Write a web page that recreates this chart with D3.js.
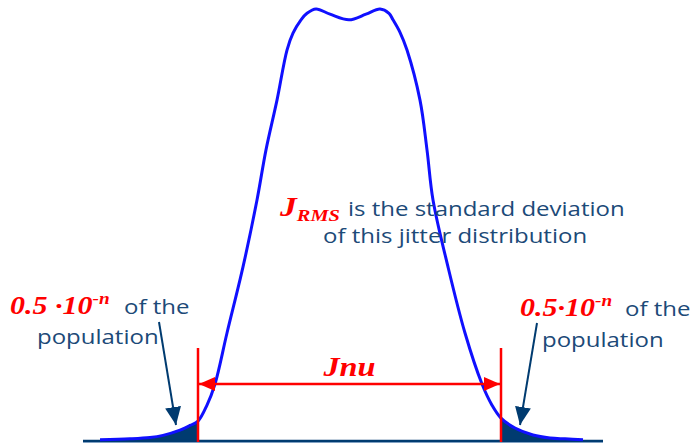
<!DOCTYPE html>
<html>
<head>
<meta charset="utf-8">
<script src="https://cdn.jsdelivr.net/npm/d3@7"></script>
<style>
  body { margin: 0; background: #fff; }
  svg { display: block; }
</style>
</head>
<body>
<svg id="chart"></svg>
<script>
// jitter offset (ps from centre) and normalised density
const jitterX = [-249, -219, -199, -186, -169, -159, -151, -142, -134, -122, -106, -92, -83, -72, -62, -56, -48, -42, -33, -19, 0,
  17, 31, 40, 44, 51, 58, 71, 78, 84, 99, 116, 133, 143, 152, 166, 184, 201, 216, 234];
const density = [0.003, 0.005, 0.008, 0.013, 0.025, 0.036, 0.046, 0.083, 0.132, 0.25, 0.403, 0.558, 0.674, 0.789, 0.905, 0.944, 0.975, 0.99, 1.0, 0.988, 0.975,
  0.988, 1.0, 0.99, 0.975, 0.946, 0.905, 0.789, 0.674, 0.558, 0.403, 0.25, 0.132, 0.083, 0.053, 0.03, 0.014, 0.007, 0.005, 0.003];
// Jnu limits (same units as jitterX)
const jnuBounds = [-151, 152];
const axisExtent = [-266, 254];

const width = 692;
const height = 445;
const navy = '#003b70';
const textNavy = '#1c4a78';
const red = '#ff0000';
const sans = 'Open Sans, Noto Sans, sans-serif';
const serif = 'Liberation Serif, serif';
// the original artwork is stretched sideways, so is the text
const stretch = 1.2;

const data = jitterX.map((x, i) => ({ x: x, y: density[i] }));

const xScale = d3.scaleLinear().domain([-349, 343]).range([0, width]);
const yScale = d3.scaleLinear().domain([0, 1]).range([441, 9]);

const svg = d3.select('#chart').attr('width', width).attr('height', height);
svg.append('rect').attr('width', width).attr('height', height).attr('fill', '#fff');

const defs = svg.append('defs');
defs.append('marker')
  .attr('id', 'redHead')
  .attr('viewBox', '0 0 16 14')
  .attr('refX', 16).attr('refY', 7)
  .attr('markerWidth', 16).attr('markerHeight', 14)
  .attr('markerUnits', 'userSpaceOnUse')
  .attr('orient', 'auto-start-reverse')
  .append('path').attr('d', 'M0,0 L16,7 L0,14 Z').attr('fill', red);
defs.append('marker')
  .attr('id', 'navyHead')
  .attr('viewBox', '0 0 18 16')
  .attr('refX', 18).attr('refY', 8)
  .attr('markerWidth', 18).attr('markerHeight', 16)
  .attr('markerUnits', 'userSpaceOnUse')
  .attr('orient', 'auto')
  .append('path').attr('d', 'M0,0 L18,8 L0,16 Z').attr('fill', navy);

// shaded tails outside Jnu
const area = d3.area()
  .x((d) => xScale(d.x))
  .y0(yScale(0))
  .y1((d) => yScale(d.y))
  .curve(d3.curveMonotoneX);

svg.append('path')
  .datum(data.filter((d) => d.x <= jnuBounds[0]))
  .attr('fill', navy)
  .attr('d', area);
svg.append('path')
  .datum(data.filter((d) => d.x >= jnuBounds[1]))
  .attr('fill', navy)
  .attr('d', area);

// baseline
svg.append('line')
  .attr('x1', xScale(axisExtent[0])).attr('x2', xScale(axisExtent[1]))
  .attr('y1', yScale(0) + 1).attr('y2', yScale(0) + 1)
  .attr('stroke', '#8fb0d4').attr('stroke-width', 1.5);
svg.append('line')
  .attr('x1', xScale(axisExtent[0])).attr('x2', xScale(axisExtent[1]))
  .attr('y1', yScale(0)).attr('y2', yScale(0))
  .attr('stroke', navy).attr('stroke-width', 2.5);

// distribution curve
const line = d3.line()
  .x((d) => xScale(d.x))
  .y((d) => yScale(d.y))
  .curve(d3.curveCatmullRom.alpha(0.5));

svg.append('path')
  .datum(data)
  .attr('fill', 'none')
  .attr('stroke', '#1010ff')
  .attr('stroke-width', 3)
  .attr('d', line);

// Jnu limits and arrow
jnuBounds.forEach((b) => {
  svg.append('line')
    .attr('x1', xScale(b)).attr('x2', xScale(b))
    .attr('y1', 348).attr('y2', yScale(0) + 1)
    .attr('stroke', red).attr('stroke-width', 2.5);
});
svg.append('line')
  .attr('x1', xScale(jnuBounds[0]) + 1).attr('x2', xScale(jnuBounds[1]) - 1)
  .attr('y1', 384).attr('y2', 384)
  .attr('stroke', red).attr('stroke-width', 2.5)
  .attr('marker-start', 'url(#redHead)')
  .attr('marker-end', 'url(#redHead)');

// tail pointers
[[159, 322, 176, 425], [537, 323, 520, 425]].forEach(([x1, y1, x2, y2]) => {
  svg.append('line')
    .attr('x1', x1).attr('y1', y1).attr('x2', x2).attr('y2', y2)
    .attr('stroke', navy).attr('stroke-width', 2)
    .attr('marker-end', 'url(#navyHead)');
});

function label(x, y, anchor) {
  return svg.append('text')
    .attr('transform', `translate(${x},${y}) scale(${stretch},1)`)
    .attr('text-anchor', anchor || 'start');
}
function redText(x, y, size, anchor) {
  return label(x, y, anchor)
    .attr('font-family', serif).attr('font-weight', 'bold').attr('font-style', 'italic')
    .attr('font-size', size).attr('fill', red);
}
function navyText(x, y, str) {
  return label(x, y)
    .attr('font-family', sans).attr('font-size', 20).attr('fill', textNavy)
    .text(str);
}

redText((xScale(jnuBounds[0]) + xScale(jnuBounds[1])) / 2, 376, 27, 'middle').text('Jnu');

function popLabel(x, y, str, xOf, xPop, yPop) {
  const t = redText(x, y, 25);
  t.append('tspan').text(str);
  t.append('tspan').attr('font-size', 16).attr('dy', -10).text('-n');
  navyText(xOf, y, 'of the');
  navyText(xPop, yPop, 'population');
}
popLabel(10, 314, '0.5 \u00b710', 124, 37, 344);
popLabel(520, 316, '0.5\u00b710', 625, 542, 347);

// J_RMS caption
const cap = redText(280, 216, 28);
cap.append('tspan').text('J');
cap.append('tspan').attr('font-size', 17).attr('dy', 5).text('RMS');
navyText(348, 216, 'is the standard deviation');
navyText(323, 243, 'of this jitter distribution');
</script>
</body>
</html>
